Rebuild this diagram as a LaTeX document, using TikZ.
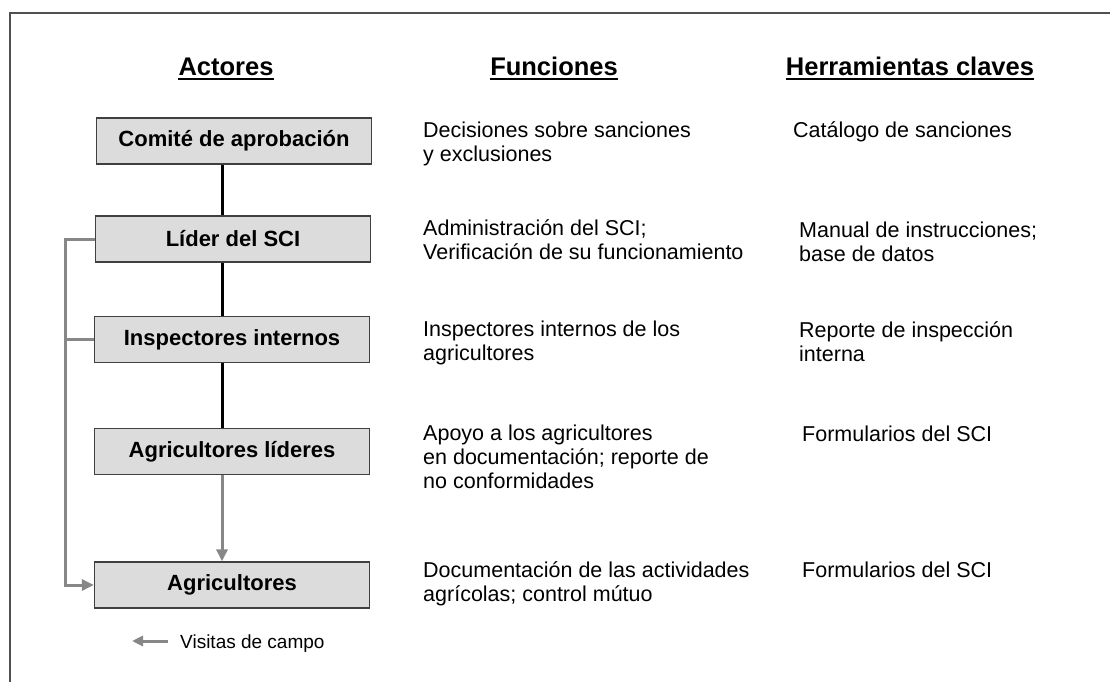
\documentclass[tikz,border=0pt]{standalone}
\usepackage{fontspec}
\setmainfont{Liberation Sans}
\usetikzlibrary{arrows.meta}
\definecolor{framecol}{HTML}{505050}
\definecolor{boxfill}{HTML}{DCDCDC}
\definecolor{boxline}{HTML}{404040}
\definecolor{visit}{HTML}{878787}
\tikzset{
  actor/.style={draw=boxline, line width=1.3pt, fill=boxfill, minimum width=275pt, minimum height=46pt, inner sep=0pt,
    font=\fontsize{22pt}{26pt}\selectfont\bfseries},
  header/.style={inner sep=0pt, anchor=base, font=\fontsize{25.5pt}{30pt}\selectfont\bfseries},
  desc/.style={inner sep=0pt, anchor=base west, align=left, font=\fontsize{21.5pt}{24pt}\selectfont},
  spineline/.style={line width=3pt, black},
  visitline/.style={line width=3pt, visit},
  visitarrow/.style={visitline, -{Triangle[length=12pt,width=11pt]}},
  uline/.style={line width=1.5pt}
}
\begin{document}
\begin{tikzpicture}[x=1pt,y=-1pt]
\useasboundingbox (0,0) rectangle (1110,682);
% frame (cut at right and bottom)
\draw[framecol, line width=1.5pt] (10,682) -- (10,13) -- (1110,13);

% headers
\node[header] (hA) at (226,76) {Actores};
\node[header] (hF) at (554,76) {Funciones};
\node[header] (hH) at (910,76) {Herramientas claves};
\foreach \h in {hA,hF,hH}
  \draw[uline] ([yshift=-3pt]\h.base west) -- ([yshift=-3pt]\h.base east);

% actors
\node[actor] (comite) at (234,141) {Comité de aprobación};
\node[actor] (lider)  at (233,239) {Líder del SCI};
\node[actor] (insp)   at (232,339.5) {Inspectores internos};
\node[actor] (agrlid) at (232,451.5) {Agricultores líderes};
\node[actor] (agr)    at (232,585) {Agricultores};

% spine
\coordinate (spine) at (222,0);
\draw[spineline] (comite.south -| spine) -- (lider.north -| spine);
\draw[spineline] (lider.south -| spine) -- (insp.north -| spine);
\draw[spineline] (insp.south -| spine) -- (agrlid.north -| spine);
\draw[visitarrow] (agrlid.south -| spine) -- (agr.north -| spine);

% field visits bus
\coordinate (bus) at (65,0);
\draw[visitarrow] (lider.west) -- (lider.west -| bus) -- (agr.west -| bus) -- (agr.west);
\draw[visitline] (insp.west) -- (insp.west -| bus);

% functions (anchor = baseline of last line)
\node[desc] (f1) at (423,161) {Decisiones sobre sanciones\\y exclusiones};
\node[desc] (f2) at (423,259) {Administración del SCI;\\Verificación de su funcionamiento};
\node[desc] (f3) at (423,360) {Inspectores internos de los\\agricultores};
\node[desc] (f4) at (423,488) {Apoyo a los agricultores\\en documentación; reporte de\\no conformidades};
\node[desc] (f5) at (423,601) {Documentación de las actividades\\agrícolas; control mútuo};

% tools
\node[desc] (t1) at (793,137) {Catálogo de sanciones};
\node[desc] (t2) at (799,261) {Manual de instrucciones;\\base de datos};
\node[desc] (t3) at (799,361) {Reporte de inspección\\interna};
\node[desc] (t4) at (802,441) {Formularios del SCI};
\node[desc] (t5) at (802,577) {Formularios del SCI};

% legend
\coordinate (legS) at (168,641);
\coordinate (legE) at (132,641);
\draw[visitline, -{Triangle[length=11pt,width=10pt]}] (legS) -- (legE);
\node[inner sep=0pt, anchor=base west, font=\fontsize{19pt}{22pt}\selectfont] (leg) at (180,648) {Visitas de campo};
\end{tikzpicture}
\end{document}
